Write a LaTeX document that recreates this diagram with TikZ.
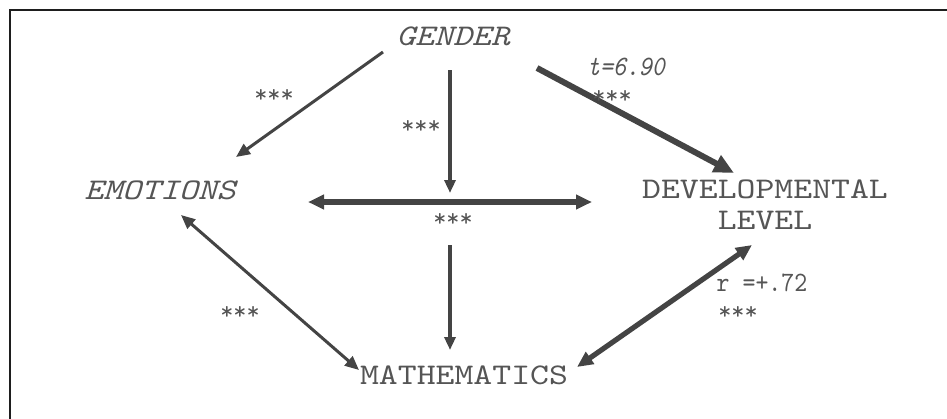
\documentclass[tikz,border=0pt]{standalone}
\usepackage{fontspec}
\usepackage{tikz}
\usetikzlibrary{arrows.meta,calc}
\definecolor{ink}{HTML}{444444}
\definecolor{txt}{HTML}{555555}
\definecolor{frame}{HTML}{1E1E1E}
\newfontfamily\varfont{lmmono10-regular.otf}[ItalicFont=lmmono10-italic.otf,FakeStretch=1.2]
\newfontfamily\statfont{lmmono10-regular.otf}[ItalicFont=lmmono10-italic.otf,FakeStretch=0.88]
\newfontfamily\starfont{lmmono10-regular.otf}
\tikzset{
  var/.style={font=\varfont\fontsize{15}{15.5}\selectfont,text=txt,align=center,inner sep=2pt},
  stat/.style={font=\statfont\fontsize{14}{14}\selectfont,text=txt,inner sep=1pt},
  stars/.style={font=\starfont\fontsize{12.5}{13}\selectfont,text=txt,inner sep=1pt},
  thinpath/.style={-{Triangle[length=7pt,width=6pt]},draw=ink,line width=1.5pt},
  midpath/.style={-{Triangle[length=6.5pt,width=5.5pt]},draw=ink,line width=2.2pt},
  thickpath/.style={-{Triangle[length=10pt,width=9pt]},draw=ink,line width=3pt},
  corr/.style={{Triangle[length=7pt,width=6pt]}-{Triangle[length=7pt,width=6pt]},draw=ink,line width=1.5pt},
  thickcorr/.style={{Triangle[length=8pt,width=7pt]}-{Triangle[length=8pt,width=7pt]},draw=ink,line width=2.6pt}
}
\begin{document}
\begin{tikzpicture}[x=0.5pt,y=-0.5pt]
  \useasboundingbox (0,0) rectangle (947,418);
  % frame, cut by the page edge
  \draw[frame,line width=1pt] (10,10) rectangle (980,450);
  % variables
  \node[var] (gender) at (453,36) {\itshape GENDER};
  \node[var] (emo) at (160,190) {\itshape EMOTIONS};
  \node[var] (dev) at (765,205) {DEVELOPMENTAL\\LEVEL};
  \node[var] (math) at (464,375) {MATHEMATICS};
  \coordinate (hub) at (450,202);
  % paths
  \draw[thinpath] ($(gender)+(-70,16)$) -- ($(emo)+(76,-33)$);
  \draw[midpath] ($(gender)+(-3,34)$) -- ($(hub)+(0,-9)$);
  \draw[thickpath] ($(gender)+(84,32)$) -- ($(dev)+(-31,-32)$);
  \draw[thickcorr] ($(emo)+(148,12)$) -- ($(dev)+(-173,-3)$);
  \draw[midpath] ($(hub)+(0,43)$) -- ($(math)+(-14,-25)$);
  \draw[corr] ($(emo)+(21,25)$) -- ($(math)+(-105,-5)$);
  \draw[thickcorr] ($(dev)+(-13,40)$) -- ($(math)+(113,-8)$);
  % labels
  \node[stars] (s1) at (274,96) {***};
  \node[stars] (s2) at (421,127) {***};
  \node[stat] (tval) at (626,67) {\itshape t=6.90};
  \node[stars] (s3) at (612,97) {***};
  \node[stars] (s4) at (453,220) {***};
  \node[stars] (s5) at (240,313) {***};
  \node[stat] (rval) at (762,283) {r =+.72};
  \node[stars] (s6) at (738,313) {***};
\end{tikzpicture}
\end{document}
